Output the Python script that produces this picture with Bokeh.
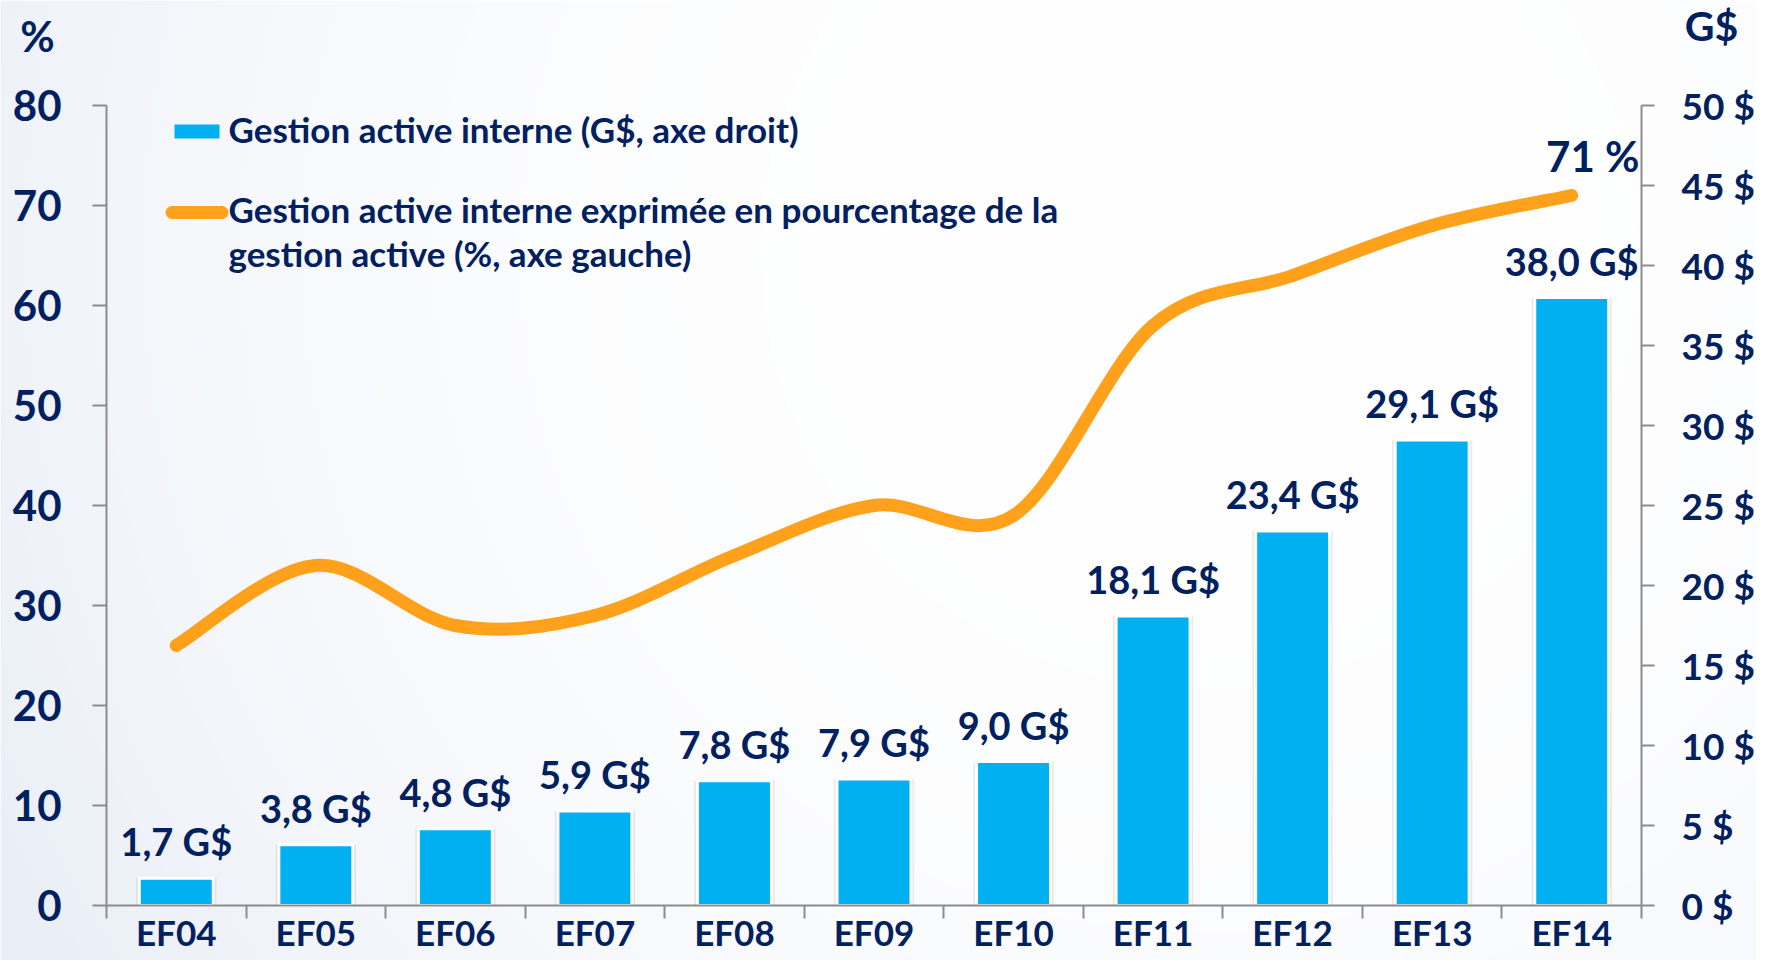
import numpy as np
from bokeh.plotting import figure
from bokeh.models import (Range1d, LinearAxis, FixedTicker, ColumnDataSource, Label)
from bokeh.core.properties import value
from bokeh.embed import file_html
from bokeh.resources import INLINE

# ---------------- data ----------------
categories = ["EF04", "EF05", "EF06", "EF07", "EF08", "EF09", "EF10",
              "EF11", "EF12", "EF13", "EF14"]
gestion_gs = [1.7, 3.8, 4.8, 5.9, 7.8, 7.9, 9.0, 18.1, 23.4, 29.1, 38.0]
bar_labels = ["1,7 G$", "3,8 G$", "4,8 G$", "5,9 G$", "7,8 G$", "7,9 G$",
              "9,0 G$", "18,1 G$", "23,4 G$", "29,1 G$", "38,0 G$"]
pourcentage = [26, 34, 28, 29, 35, 40, 39, 58, 63, 68, 71]
left_ticks = [0, 10, 20, 30, 40, 50, 60, 70, 80]
right_ticks = [0, 5, 10, 15, 20, 25, 30, 35, 40, 45, 50]
right_tick_labels = ["0 $", "5 $", "10 $", "15 $", "20 $", "25 $", "30 $",
                     "35 $", "40 $", "45 $", "50 $"]
legend_bar = "Gestion active interne (G$, axe droit)"
legend_line_1 = "Gestion active interne exprimée en pourcentage de la"
legend_line_2 = "gestion active (%, axe gauche)"

# ---------------- style / layout ----------------
NAVY = "#002060"
BLUE = "#00B0F0"
ORANGE = "#FFA11A"
GREY = "#8C8C8C"
FONT = "Lato"
W, H = 1756, 960
AX_L, AX_R, AX_B, AX_T = 106, 1641, 905, 105   # pixel positions of the axes

n = len(categories)
xpos = [i + 0.5 for i in range(n)]
ppx = (AX_R - AX_L) / n
ppy = (AX_B - AX_T) / 80.0
ppy_r = (AX_B - AX_T) / 50.0

xr = Range1d(-AX_L / ppx, n + (W - AX_R) / ppx)
yr = Range1d(-(H - AX_B) / ppy, 80 + AX_T / ppy)
p = figure(width=W, height=H, x_range=xr, y_range=yr,
           output_backend="svg", toolbar_location=None,
           min_border=0, min_border_left=0, min_border_right=0,
           min_border_top=0, min_border_bottom=0)
p.extra_y_ranges = {"gs": Range1d(-(H - AX_B) / ppy_r, 50 + AX_T / ppy_r)}
p.outline_line_color = None
p.background_fill_color = "white"
p.border_fill_color = "white"
p.xgrid.visible = False
p.ygrid.visible = False

# soft background shading (light blue-grey towards the lower left)
gh, gw = 240, 440
yy, xx = np.mgrid[0:gh, 0:gw]
px_x = xx / (gw - 1) * W
px_y = H - yy / (gh - 1) * H          # row 0 is the bottom of the image
dist = np.sqrt((px_x - 1200) ** 2 + (px_y - 250) ** 2) / 1400.0
t = np.clip(dist, 0, 1) ** 2.5
tint = np.array([232, 237, 246])
rgb = (255 * (1 - t[..., None]) + tint * t[..., None]).astype(np.uint32)
img = (255 << 24) | (rgb[..., 2] << 16) | (rgb[..., 1] << 8) | rgb[..., 0]
p.image_rgba(image=[img.astype(np.uint32)], x=xr.start, y=yr.start,
             dw=xr.end - xr.start, dh=yr.end - yr.start, level="image")


def style_axis(ax, size):
    ax.major_label_text_font = FONT
    ax.major_label_text_font_style = "bold"
    ax.major_label_text_font_size = size
    ax.major_label_text_color = NAVY
    ax.axis_line_color = GREY
    ax.axis_line_width = 2
    ax.major_tick_line_color = GREY
    ax.major_tick_line_width = 2
    ax.minor_tick_line_color = GREY
    ax.minor_tick_line_width = 2
    ax.major_tick_in = 0
    ax.minor_tick_in = 0


# left axis (%)
ya = p.yaxis[0]
ya.fixed_location = 0
ya.bounds = (0, 80)
ya.ticker = FixedTicker(ticks=left_ticks)
style_axis(ya, "42px")
ya.major_tick_out = 14
ya.minor_tick_out = 0
ya.major_label_standoff = 31

# right axis (G$)
ra = LinearAxis(y_range_name="gs", ticker=FixedTicker(ticks=right_ticks),
                major_label_overrides=dict(zip(right_ticks, right_tick_labels)))
ra.fixed_location = n
ra.bounds = (0, 50)
style_axis(ra, "37px")
ra.major_tick_out = 13
ra.minor_tick_out = 0
ra.major_label_standoff = 27
p.add_layout(ra, "right")

# bottom axis: labels at category centres, tick marks at category boundaries
xa = p.xaxis[0]
xa.fixed_location = 0
xa.bounds = (0, n)
xa.ticker = FixedTicker(ticks=xpos, minor_ticks=list(range(n + 1)))
xa.major_label_overrides = dict(zip(xpos, categories))
style_axis(xa, "35px")
xa.major_tick_out = 0
xa.minor_tick_out = 13
xa.major_label_standoff = -8

src = ColumnDataSource(dict(x=xpos, gs=gestion_gs, lbl=bar_labels, pct=pourcentage))

# bars (with faint shadow)
p.vbar(x="x", top="gs", width=0.575, bottom=0, y_range_name="gs", source=src,
       fill_color="#000000", fill_alpha=0.08, line_color=None)
bars = p.vbar(x="x", top="gs", width=0.53, bottom=0, y_range_name="gs", source=src,
              fill_color=BLUE, line_color="white", line_width=3)

# smooth line: cubic Bezier segments through the data points
x0, y0, x1, y1, cx0, cy0, cx1, cy1 = [], [], [], [], [], [], [], []
for i in range(n - 1):
    pr = i - 1 if i > 0 else i
    nx = i + 2 if i + 2 < n else i + 1
    x0.append(xpos[i]); y0.append(pourcentage[i])
    x1.append(xpos[i + 1]); y1.append(pourcentage[i + 1])
    cx0.append(xpos[i] + (xpos[i + 1] - xpos[pr]) / 6)
    cy0.append(pourcentage[i] + (pourcentage[i + 1] - pourcentage[pr]) / 6)
    cx1.append(xpos[i + 1] - (xpos[nx] - xpos[i]) / 6)
    cy1.append(pourcentage[i + 1] - (pourcentage[nx] - pourcentage[i]) / 6)
bsrc = ColumnDataSource(dict(x0=x0, y0=y0, x1=x1, y1=y1, cx0=cx0, cy0=cy0,
                             cx1=cx1, cy1=cy1))
p.bezier(x0="x0", y0="y0", x1="x1", y1="y1", cx0="cx0", cy0="cy0", cx1="cx1",
         cy1="cy1", source=bsrc, line_color=ORANGE, line_width=13, line_cap="round")

# value labels over bars
p.text(x="x", y="gs", text="lbl", source=src, y_range_name="gs",
       text_align="center", text_baseline="alphabetic", y_offset=-37,
       text_font=value(FONT), text_font_style="bold", text_font_size="38px",
       text_color=NAVY)

# last percentage label
p.text(x=[xpos[-1]], y=[pourcentage[-1]], text=[f"{pourcentage[-1]} %"],
       text_align="center", text_baseline="alphabetic", x_offset=21, y_offset=-40,
       text_font=value(FONT), text_font_style="bold", text_font_size="42px",
       text_color=NAVY)


# legend (manual)
def dx(px):
    return (px - AX_L) / ppx


def dy(px):
    return (AX_B - px) / ppy


p.quad(left=[dx(174)], right=[dx(219)], top=[dy(124)], bottom=[dy(138)],
       fill_color=BLUE, line_color=None)
p.segment(x0=[dx(171.5)], x1=[dx(221.5)], y0=[dy(212)], y1=[dy(212)],
          line_color=ORANGE, line_width=13, line_cap="round")
for txt, bl in [(legend_bar, 128), (legend_line_1, 208), (legend_line_2, 252)]:
    p.add_layout(Label(x=dx(228), y=dy(bl), text=txt, text_font=FONT,
                       text_font_style="bold", text_font_size="35px",
                       text_color=NAVY, text_baseline="alphabetic"))

# axis unit titles
p.add_layout(Label(x=dx(37), y=dy(35), text="%", text_font=FONT,
                   text_font_style="bold", text_font_size="42px", text_color=NAVY,
                   text_align="center", text_baseline="alphabetic"))
p.add_layout(Label(x=dx(1711), y=dy(25), text="G$", text_font=FONT,
                   text_font_style="bold", text_font_size="41px", text_color=NAVY,
                   text_align="center", text_baseline="alphabetic"))

open("out.html", "w").write(file_html(p, INLINE))
